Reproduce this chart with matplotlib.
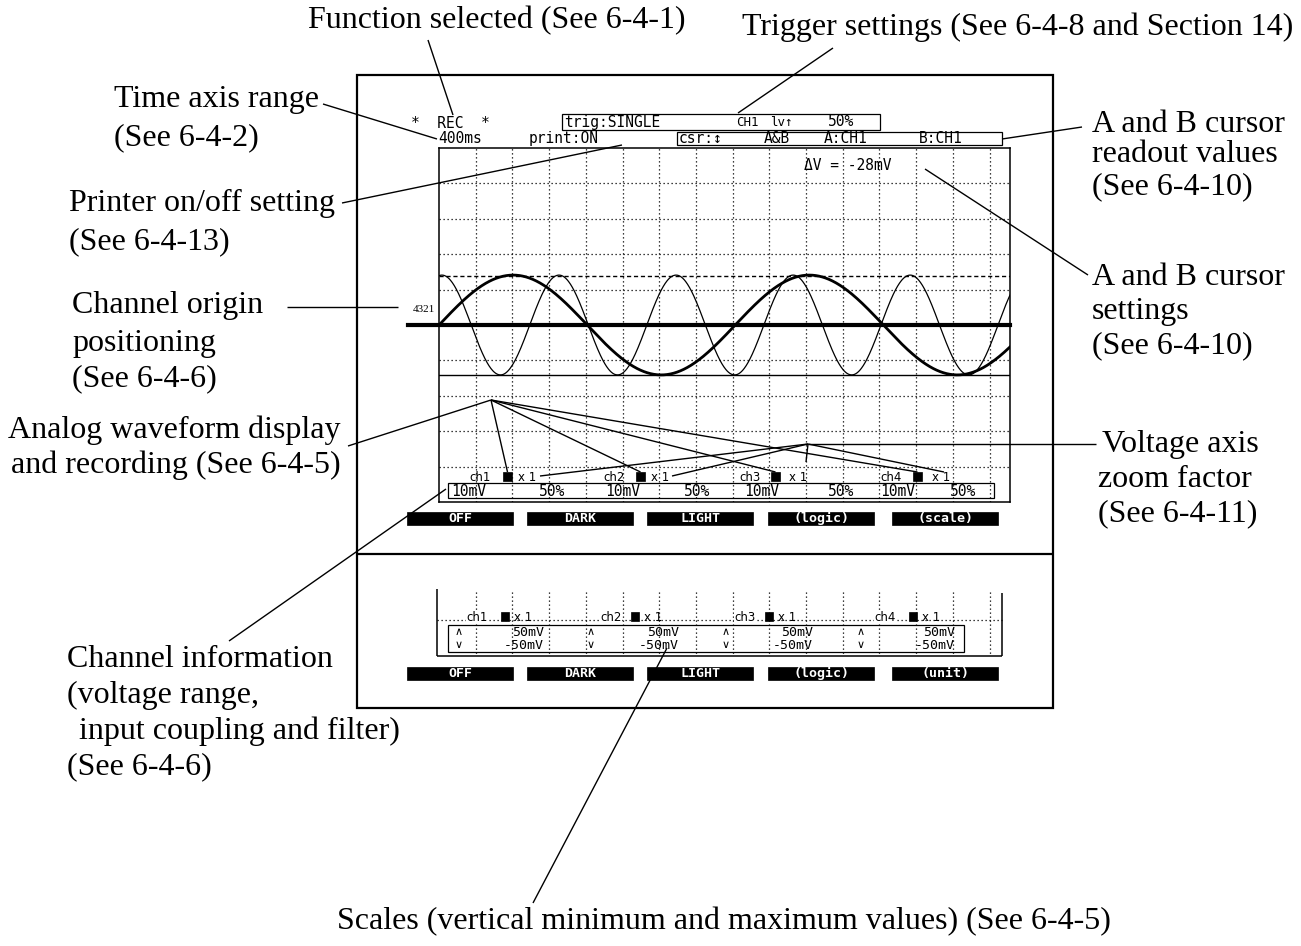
import matplotlib
matplotlib.use("Agg")
import matplotlib.pyplot as plt
from matplotlib.patches import Rectangle
import numpy as np

# ---------------- data ----------------
channels = ["ch1", "ch2", "ch3", "ch4"]
zoom_factors = ["x 1", "x 1", "x 1", "x 1"]
volt_ranges = ["10mV", "10mV", "10mV", "10mV"]
positions = ["50%", "50%", "50%", "50%"]
scale_max = ["50mV", "50mV", "50mV", "50mV"]
scale_min = ["-50mV", "-50mV", "-50mV", "-50mV"]
buttons_upper = ["OFF", "DARK", "LIGHT", "(logic)", "(scale)"]
buttons_lower = ["OFF", "DARK", "LIGHT", "(logic)", "(unit)"]
function_name = "REC"
time_range = "400ms"
printer_state = "print:ON"
trigger_words = ["trig:SINGLE", "CH1", "lv\u2191", "50%"]
cursor_words = ["csr:\u2195", "A&B", "A:CH1", "B:CH1"]
delta_v = "\u0394V = -28mV"
origin_label = "4321"

# waveforms (grid divisions): amplitude, period, position of first peak
wave_amplitude = [1.41, 1.41]
wave_period = [8.07, 3.19]
wave_first_peak = [2.02, 0.08]
wave_width = [2.0, 0.9]
marker_levels = [1.38, -1.41]   # dashed upper marker, thin lower marker

annotations = [
    # (x, y, text)
    (308, 21, "Function selected (See 6-4-1)"),
    (742, 27, "Trigger settings (See 6-4-8 and Section 14)"),
    (114, 100, "Time axis range"),
    (114, 138, "(See 6-4-2)"),
    (69, 203, "Printer on/off setting"),
    (69, 242, "(See 6-4-13)"),
    (72, 305, "Channel origin"),
    (72, 343, "positioning"),
    (72, 379, "(See 6-4-6)"),
    (8, 430, "Analog waveform display"),
    (11, 465, "and recording (See 6-4-5)"),
    (67, 659, "Channel information"),
    (67, 695, "(voltage range,"),
    (79, 731, "input coupling and filter)"),
    (67, 767, "(See 6-4-6)"),
    (337, 922, "Scales (vertical minimum and maximum values) (See 6-4-5)"),
    (1092, 124, "A and B cursor"),
    (1092, 155, "readout values"),
    (1092, 187, "(See 6-4-10)"),
    (1092, 277, "A and B cursor"),
    (1092, 311, "settings"),
    (1092, 346, "(See 6-4-10)"),
    (1102, 444, "Voltage axis"),
    (1098, 479, "zoom factor"),
    (1098, 514, "(See 6-4-11)"),
]

# ---------------- layout ----------------
W, H = 1301, 946
SERIF = "Liberation Serif"
MONO = "DejaVu Sans Mono"
SANS = "DejaVu Sans"
LW = 1.0

fig = plt.figure(figsize=(W / 100, H / 100), dpi=100)
fig.patch.set_facecolor("white")
cv = fig.add_axes([0, 0, 1, 1])
cv.set_xlim(0, W)
cv.set_ylim(H, 0)
cv.axis("off")


def line(x0, y0, x1, y1, lw=LW, **kw):
    cv.plot([x0, x1], [y0, y1], color="black", lw=lw, solid_capstyle="butt", **kw)


def rect(x, y, w, h, fill=False, lw=0.9):
    cv.add_patch(Rectangle((x, y), w, h, facecolor="black" if fill else "none",
                           edgecolor="black", lw=lw))


def mono(x, y, s, size=10, ha="left", color="black", weight="normal"):
    cv.text(x, y, s, fontsize=size, family=MONO, ha=ha, va="center",
            color=color, fontweight=weight)


# outer screen frame and divider
rect(357, 75, 696, 633, lw=1.6)
line(357, 554, 1053, 554, lw=1.6)

# ---------------- scope grid ----------------
GX0, GY0, GX1, GY1 = 439, 148, 1010, 502
DIVX, DIVY = 36.7, 35.4
sc = fig.add_axes([GX0 / W, 1 - GY1 / H, (GX1 - GX0) / W, (GY1 - GY0) / H])
sc.patch.set_alpha(0)
xmax = (GX1 - GX0) / DIVX
sc.set_xlim(0, xmax)
sc.set_ylim(-5, 5)
sc.set_xticks([])
sc.set_yticks([])
for sp in sc.spines.values():
    sp.set_linewidth(1.1)
dot = (0, (1, 2.2))
for k in range(1, int(xmax) + 1):
    sc.axvline(k, color="black", lw=0.9, ls=dot)
for k in range(-4, 5):
    if k != 0:
        sc.axhline(k, color="black", lw=0.9, ls=dot)
sc.axhline(marker_levels[0], color="black", lw=1.0, ls=(0, (3, 2)))
sc.axhline(marker_levels[1], color="black", lw=1.0)
sc.plot([-(GX0 - 408) / DIVX, xmax], [0, 0], color="black", lw=3.0, clip_on=False)
t = np.linspace(0, xmax, 1200)
for a, p, pk, w in zip(wave_amplitude, wave_period, wave_first_peak, wave_width):
    sc.plot(t, a * np.cos(2 * np.pi * (t - pk) / p), color="black", lw=w)

# ---------------- header ----------------
mono(411, 123, "*  " + function_name + "  *", size=10.5)
rect(562, 114, 318, 16)
for x, s in zip([564, 736, 770, 828], trigger_words):
    mono(x, 122, s, size=10.5 if x != 736 and x != 770 else 9)
mono(438, 138.5, time_range, size=10.5)
mono(529, 138.5, printer_state, size=10.5)
rect(677, 132, 325, 13)
for x, s in zip([679, 764, 824, 919], cursor_words):
    mono(x, 138.5, s, size=10.5)
mono(804, 166, delta_v, size=10.5)
cv.text(435, 309, origin_label, fontsize=8, family=SERIF, ha="right", va="center")

# ---------------- channel row and info box (upper) ----------------
ch_x = [469, 603, 739, 880]
sq_x = [503, 636, 771, 913]
x1_x = [518, 651, 789, 932]
for cx, qx, zx, c, z in zip(ch_x, sq_x, x1_x, channels, zoom_factors):
    cv.text(cx, 477, c, fontsize=8.5, family=SANS, ha="left", va="center")
    rect(qx, 472, 9, 9, fill=True, lw=0.5)
    cv.text(zx, 477, z, fontsize=8.5, family=SANS, ha="left", va="center")
rect(448, 483, 546, 15)
for x, s in zip([451, 605, 744, 880], volt_ranges):
    mono(x, 491, s, size=10.5)
for x, s in zip([539, 684, 828, 950], positions):
    mono(x, 491, s, size=10.5)

# ---------------- buttons ----------------
btn_x = [407, 527, 647, 768, 892]
for bx, lab in zip(btn_x, buttons_upper):
    rect(bx, 512, 106, 13, fill=True, lw=0.5)
    mono(bx + 53, 518.5, lab, size=9.5, ha="center", color="white", weight="bold")
for bx, lab in zip(btn_x, buttons_lower):
    rect(bx, 667, 106, 13, fill=True, lw=0.5)
    mono(bx + 53, 673.5, lab, size=9.5, ha="center", color="white", weight="bold")

# ---------------- lower panel ----------------
line(437, 589, 437, 656, lw=1.1)
line(1002, 593, 1002, 656, lw=1.1)
line(437, 656, 1002, 656, lw=1.1)
line(437, 620, 1002, 620, lw=0.9, ls=dot)
for k in range(1, 16):
    xk = GX0 + k * DIVX
    if xk < 1000:
        line(xk, 592, xk, 655, lw=0.9, ls=dot)
lch_x = [466, 600, 734, 874]
lsq_x = [501, 631, 765, 909]
lx1_x = [514, 644, 778, 922]
for cx, qx, zx, c, z in zip(lch_x, lsq_x, lx1_x, channels, zoom_factors):
    cv.text(cx, 617, c, fontsize=8.5, family=SANS, ha="left", va="center",
            bbox=dict(facecolor="white", edgecolor="none", pad=0.3))
    rect(qx, 612, 8, 9, fill=True, lw=0.5)
    cv.text(zx, 617, z, fontsize=8.5, family=SANS, ha="left", va="center")
rect(448, 625, 516, 27)
arr_x = [455, 587, 722, 857]
val_x = [544, 679, 813, 955]
for ax_, vx, hi, lo in zip(arr_x, val_x, scale_max, scale_min):
    cv.text(ax_, 632, "\u2227", fontsize=8, family=SANS, ha="left", va="center")
    cv.text(ax_, 645, "\u2228", fontsize=8, family=SANS, ha="left", va="center")
    mono(vx, 632, hi, size=9.5, ha="right")
    mono(vx, 645, lo, size=9.5, ha="right")

# ---------------- annotations ----------------
for x, y, s in annotations:
    cv.text(x, y, s, fontsize=23, family=SERIF, ha="left", va="center")

# leader lines
line(428, 40, 453, 115)
line(833, 48, 738, 113)
line(323, 104, 437, 139)
line(342, 203, 622, 145)
line(287, 307, 398, 307)
line(348, 446, 491, 400)
for qx in sq_x:
    line(491, 400, qx + 4.5, 472)
line(1096, 444, 808, 444)
for ex, ey in [(540, 476), (672, 476), (806, 462), (944, 472)]:
    line(808, 444, ex, ey)
line(229, 641, 446, 489)
line(533, 903, 667, 648)
line(1002, 139, 1082, 127)
line(925, 169, 1088, 275)

fig.savefig("out.png", dpi=100, facecolor="white")
